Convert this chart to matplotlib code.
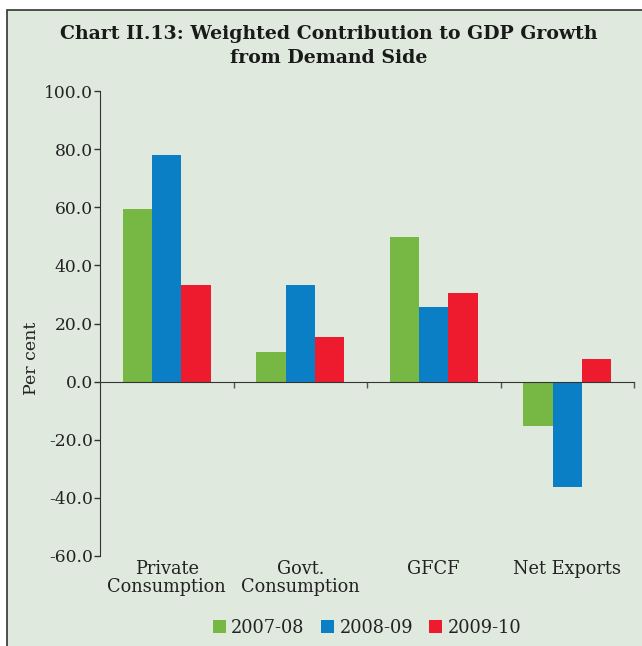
import matplotlib.pyplot as plt
import numpy as np
from matplotlib.patches import Rectangle

categories = ['Private\nConsumption', 'Govt.\nConsumption', 'GFCF', 'Net Exports']
years = ['2007-08', '2008-09', '2009-10']
v_2007 = [59.5, 10.3, 49.8, -15.1]
v_2008 = [78.0, 33.3, 25.8, -36.1]
v_2009 = [33.3, 15.5, 30.6, 7.9]
y_ticks = [-60, -40, -20, 0, 20, 40, 60, 80, 100]

colors = ['#76b843', '#0a7fc6', '#ee1b2f']
bg = '#dfe9dd'
font = 'DejaVu Serif'

fig = plt.figure(figsize=(6.42, 6.46), dpi=100)
fig.patch.set_facecolor('white')
# panel background, border only visible on top and left
fig.patches.append(Rectangle((7 / 642, -0.1), 1.2, 1.1 - 10 / 646, transform=fig.transFigure,
                             facecolor=bg, edgecolor='#333333', linewidth=1.2, zorder=-1))

ax = fig.add_axes([100 / 642, 1 - 556 / 646, 534 / 642, 465 / 646])
ax.set_facecolor(bg)

x = np.arange(len(categories))
w = 0.22
for i, vals in enumerate([v_2007, v_2008, v_2009]):
    ax.bar(x + (i - 1) * w, vals, w, color=colors[i], label=years[i], zorder=2)

ax.set_xlim(-0.5, len(categories) - 0.5)
ax.set_ylim(-60, 100)
ax.set_yticks(y_ticks)
ax.set_yticklabels(['{:.1f}'.format(v) for v in y_ticks], fontfamily=font, fontsize=12.3, color='#222222')
ax.tick_params(axis='y', length=4, width=1, color='#333333', pad=1)

ax.spines['top'].set_visible(False)
ax.spines['right'].set_visible(False)
ax.spines['bottom'].set_position(('data', 0))
ax.spines['left'].set_color('#333333')
ax.spines['bottom'].set_color('#333333')

ax.set_xticks(np.arange(0.5, len(categories), 1))
ax.set_xticklabels([])
ax.tick_params(axis='x', length=4, width=1, color='#555555', direction='out')

for xi, lab in zip(x, categories):
    ax.text(xi, -61.3, lab, transform=ax.transData, ha='center', va='top',
            fontfamily=font, fontsize=12.8, color='#222222', linespacing=1.0)

fig.text(31 / 642, 1 - 358 / 646, 'Per cent', rotation=90, ha='center', va='center',
         fontfamily=font, fontsize=12.5, color='#222222')

fig.text(329 / 642, 1 - 46 / 646,
         'Chart II.13: Weighted Contribution to GDP Growth\nfrom Demand Side',
         ha='center', va='center', fontfamily=font, fontweight='bold', fontsize=13.6,
         color='#1a1a1a', linespacing=1.45)

leg = ax.legend(loc='center', bbox_to_anchor=(0.5, -0.155), ncol=3, frameon=False,
                prop={'family': font, 'size': 12.8}, handlelength=0.75, handleheight=0.75,
                handletextpad=0.3, columnspacing=0.9)
for t in leg.get_texts():
    t.set_color('#222222')

fig.savefig('out.png', dpi=100, facecolor='white')
